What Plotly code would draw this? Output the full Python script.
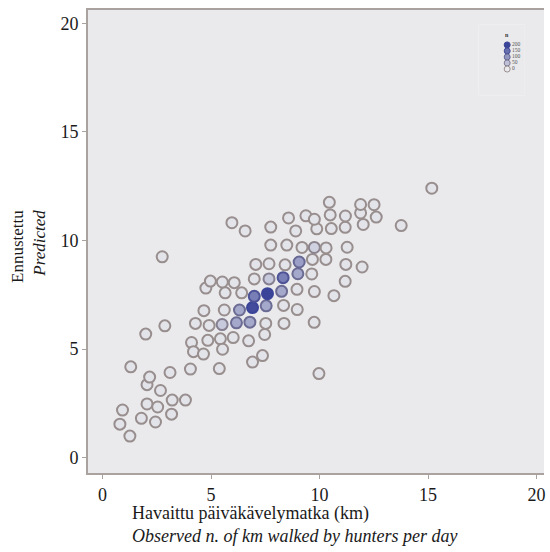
import plotly.graph_objects as go

# Observed km (x), predicted km (y), number of observations per bin (n)
obs_km = [1.26, 0.80, 0.92, 1.79, 2.44, 2.05, 2.54, 3.18, 3.21, 3.82,
          2.67, 2.05, 2.17, 3.11, 1.30, 4.05, 5.38, 1.99, 2.87, 2.75,
          4.10, 4.19, 4.65, 4.85, 5.43, 5.53, 6.02, 4.28, 4.91, 5.51,
          6.17, 6.79, 7.52, 8.36, 9.75, 4.67, 5.61, 6.31, 6.91, 7.54,
          8.34, 8.97, 4.76, 5.65, 6.41, 6.99, 7.60, 8.25, 8.96, 9.76,
          10.66, 4.97, 5.52, 6.07, 6.99, 7.67, 8.32, 9.00, 9.64, 11.18,
          7.06, 7.67, 8.41, 9.06, 9.67, 10.29, 11.21, 11.96, 7.75, 8.49,
          9.19, 9.76, 10.30, 11.27, 5.96, 6.57, 7.75, 8.90, 9.87, 10.54,
          11.18, 12.01, 13.76, 8.57, 9.37, 9.76, 10.49, 11.19, 11.89, 12.61,
          10.45, 11.89, 12.51, 15.17, 9.97, 7.37, 6.91, 6.73, 7.47]
pred_km = [0.99, 1.54, 2.19, 1.81, 1.64, 2.47, 2.33, 2.00, 2.65, 2.65,
           3.09, 3.36, 3.71, 3.92, 4.18, 4.08, 4.10, 5.69, 6.07, 9.25,
           5.30, 4.88, 4.77, 5.40, 5.47, 4.99, 5.53, 6.18, 6.09, 6.13,
           6.21, 6.24, 6.18, 6.18, 6.23, 6.77, 6.80, 6.80, 6.91, 6.99,
           7.01, 6.82, 7.81, 7.59, 7.59, 7.43, 7.55, 7.66, 7.75, 7.65,
           7.46, 8.13, 8.09, 8.06, 8.23, 8.23, 8.29, 8.47, 8.46, 8.12,
           8.90, 8.93, 8.88, 9.01, 9.13, 9.13, 8.90, 8.78, 9.79, 9.79,
           9.68, 9.68, 9.66, 9.69, 10.82, 10.44, 10.62, 10.44, 10.54, 10.55,
           10.61, 10.74, 10.69, 11.04, 11.14, 10.98, 11.18, 11.13, 11.27, 11.08,
           11.76, 11.66, 11.65, 12.41, 3.87, 4.70, 4.40, 5.38, 5.67]
n_count = [8, 8, 8, 8, 8, 8, 8, 8, 8, 8,
           8, 8, 8, 8, 8, 8, 8, 8, 8, 8,
           8, 8, 8, 8, 8, 8, 8, 8, 8, 40,
           80, 80, 8, 8, 8, 8, 8, 80, 190, 80,
           8, 8, 8, 8, 8, 130, 200, 80, 8, 8,
           8, 8, 8, 8, 8, 40, 130, 80, 8, 8,
           8, 8, 8, 90, 8, 8, 8, 8, 8, 8,
           8, 30, 8, 8, 8, 8, 8, 8, 8, 8,
           8, 8, 8, 8, 8, 8, 8, 8, 8, 8,
           8, 8, 8, 8, 8, 8, 8, 8, 8]

legend_n = [200, 150, 100, 50, 0]
legend_labels = ["200", "150", "100", "50", "0"]
x_ticks = [0, 5, 10, 15, 20]
y_ticks = [0, 5, 10, 15, 20]

x_title = ("Havaittu päiväkävelymatka (km)<br>"
           "<i>Observed n. of km walked by hunters per day</i>")
y_title = "Ennustettu<br><i>Predicted</i>"

BG = (234, 234, 237)
DARK = (58, 68, 152)
RING = (152, 142, 142)


def mix(c1, c2, t):
    t = max(0.0, min(1.0, t))
    return "rgb(%d,%d,%d)" % tuple(round(a + (b - a) * t) for a, b in zip(c1, c2))


def fill_col(n):
    return mix(BG, DARK, n / 200.0)


def line_col(n):
    return mix(RING, DARK, (n - 10) / 150.0)


FONT = "Liberation Serif, Times New Roman, serif"

fig = go.Figure()
fig.add_trace(go.Scatter(
    x=obs_km, y=pred_km, mode="markers",
    marker=dict(size=11, color=[fill_col(n) for n in n_count],
                line=dict(width=2, color=[line_col(n) for n in n_count])),
    showlegend=False, hoverinfo="skip"))

# inset legend (n)
fig.add_trace(go.Scatter(
    x=[0] * len(legend_n), y=list(range(len(legend_n)))[::-1],
    mode="markers+text", text=legend_labels, textposition="middle right",
    textfont=dict(size=5.5, color="#555", family=FONT),
    marker=dict(size=6, color=[fill_col(n) for n in legend_n],
                line=dict(width=1, color=[line_col(n) for n in legend_n])),
    xaxis="x2", yaxis="y2", showlegend=False, hoverinfo="skip"))

axis_col = "#aaa29e"
fig.update_layout(
    width=550, height=552,
    margin=dict(l=88, r=4, t=10, b=79),
    paper_bgcolor="white", plot_bgcolor="rgb(234,234,237)",
    font=dict(family=FONT, color="#1a1a1a"),
    xaxis=dict(range=[-0.67, 20.34], tickvals=x_ticks, ticks="outside", ticklen=4,
               tickcolor=axis_col, showline=True, linecolor=axis_col, linewidth=2,
               mirror=True, showgrid=False, zeroline=False,
               tickfont=dict(size=18, family=FONT, color="#1a1a1a")),
    yaxis=dict(range=[-0.71, 20.62], tickvals=y_ticks, ticks="outside", ticklen=4,
               tickcolor=axis_col, showline=True, linecolor=axis_col, linewidth=2,
               showgrid=False, zeroline=False,
               tickfont=dict(size=18, family=FONT, color="#1a1a1a")),
    xaxis2=dict(domain=[0.856, 0.958], anchor="y2", range=[-3.1, 1.9],
                visible=False, fixedrange=True),
    yaxis2=dict(domain=[0.816, 0.968], anchor="x2", range=[-4.33, 7.33],
                visible=False, fixedrange=True),
    shapes=[dict(type="rect", xref="paper", yref="paper", x0=0.856, x1=0.958,
                 y0=0.816, y1=0.968, fillcolor="white", line=dict(width=0),
                 layer="below")],
    annotations=[
        dict(text=x_title, xref="paper", yref="paper", x=0.0917, y=0,
             xanchor="left", yanchor="top", yshift=-28, align="left",
             showarrow=False, font=dict(size=18, family=FONT, color="#1a1a1a")),
        dict(text=y_title, xref="paper", yref="paper", x=-0.132, y=0.49,
             xanchor="center", yanchor="middle", textangle=-90, align="right",
             showarrow=False, font=dict(size=17, family=FONT, color="#1a1a1a")),
        dict(text="<b>n</b>", xref="x2", yref="y2", x=0, y=5.67,
             showarrow=False, font=dict(size=6, family=FONT, color="#333")),
    ],
)

fig.write_html("out.html")
